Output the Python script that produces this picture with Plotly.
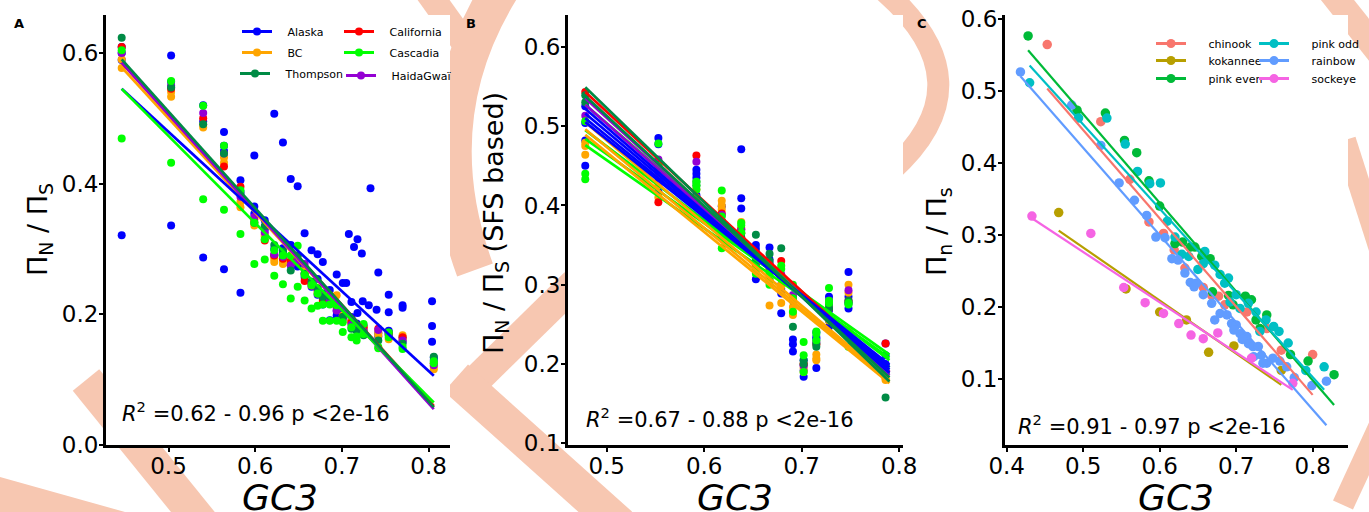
import plotly.graph_objects as go

FONT = "DejaVu Sans"
W, H = 1369, 512

# ---------------- Panel A data ----------------
A_POPS = ["Alaska", "BC", "Thompson", "California", "Cascadia", "HaidaGwaï"]
A_COLORS = ["#0000FF", "#FFA500", "#008B45", "#FF0000", "#00FF00", "#9400D3"]
A_GC3 = [0.446, 0.503, 0.540, 0.564, 0.583, 0.599, 0.611, 0.622, 0.632, 0.641, 0.649, 0.657, 0.665,
         0.672, 0.678, 0.686, 0.694, 0.701, 0.711, 0.717, 0.725, 0.742, 0.754, 0.770, 0.806]
A_ALASKA_1 = [0.609, 0.556, 0.520, 0.458, 0.405, 0.365, 0.344, 0.300, 0.301, 0.306, 0.273, 0.257, 0.242,
              0.254, 0.232, 0.237, 0.205, 0.206, 0.196, 0.186, 0.183, 0.171, 0.175, 0.165, 0.134]
A_ALASKA_2 = [0.600, 0.548, 0.495, 0.450, 0.387, 0.354, 0.330, 0.290, 0.295, 0.275, 0.276, 0.262, 0.250,
              0.230, 0.215, 0.191, 0.198, 0.200, 0.190, 0.178, 0.176, 0.166, 0.170, 0.158, 0.130]
A_ALASKA_OUT_X = [0.446, 0.446, 0.503, 0.503, 0.540, 0.564, 0.564, 0.583, 0.599, 0.622, 0.632, 0.641, 0.649,
                  0.657, 0.665, 0.672, 0.678, 0.694, 0.701, 0.705, 0.708, 0.714, 0.718, 0.723, 0.733, 0.742,
                  0.754, 0.754, 0.770, 0.770, 0.804, 0.804, 0.804, 0.718, 0.711, 0.724, 0.731, 0.740]
A_ALASKA_OUT_Y = [0.589, 0.321, 0.596, 0.336, 0.287, 0.479, 0.269, 0.233, 0.443, 0.507, 0.463, 0.407, 0.396,
                  0.324, 0.298, 0.292, 0.280, 0.261, 0.248, 0.248, 0.323, 0.303, 0.315, 0.293, 0.393, 0.264,
                  0.230, 0.203, 0.214, 0.210, 0.220, 0.182, 0.158, 0.202, 0.219, 0.220, 0.214, 0.207]
A_BC_1 = [0.577, 0.533, 0.486, 0.432, 0.364, 0.336, 0.319, 0.285, 0.277, 0.280, 0.283, 0.268, 0.248,
          0.240, 0.225, 0.229, 0.229, 0.198, 0.190, 0.182, 0.180, 0.172, 0.162, 0.168, 0.120]
A_BC_2 = [0.590, 0.540, 0.490, 0.440, 0.372, 0.340, 0.322, 0.280, 0.282, 0.278, 0.290, 0.262, 0.244,
          0.232, 0.220, 0.222, 0.212, 0.194, 0.186, 0.176, 0.178, 0.168, 0.170, 0.162, 0.116]
A_CALIFORNIA = [0.609, 0.545, 0.500, 0.426, 0.395, 0.345, 0.313, 0.290, 0.285, 0.282, 0.280, 0.251, 0.246,
                0.236, 0.222, 0.218, 0.210, 0.196, 0.188, 0.182, 0.180, 0.178, 0.170, 0.165, 0.125]
A_CASCADIA_1 = [0.604, 0.557, 0.519, 0.458, 0.390, 0.340, 0.315, 0.298, 0.290, 0.290, 0.305, 0.260, 0.245,
                0.232, 0.215, 0.215, 0.214, 0.188, 0.180, 0.166, 0.185, 0.150, 0.165, 0.150, 0.128]
A_CASCADIA_2 = [0.469, 0.432, 0.376, 0.360, 0.323, 0.277, 0.284, 0.259, 0.246, 0.224, 0.242, 0.221, 0.209,
                0.213, 0.190, 0.190, 0.190, 0.173, 0.165, 0.160, 0.170, 0.148, 0.172, 0.147, 0.125]
A_THOMPSON = [0.623, 0.547, 0.491, 0.446, 0.385, 0.340, 0.335, 0.306, 0.296, 0.267, 0.290, 0.262, 0.250,
              0.240, 0.226, 0.228, 0.215, 0.196, 0.178, 0.175, 0.168, 0.160, 0.172, 0.155, 0.135]
A_HAIDAGWAII = [0.600, 0.550, 0.508, 0.446, 0.380, 0.349, 0.325, 0.292, 0.288, 0.275, 0.282, 0.277, 0.248,
                0.238, 0.228, 0.222, 0.206, 0.192, 0.184, 0.180, 0.174, 0.176, 0.168, 0.160, 0.122]
# regression lines (value at first and last GC3)
A_LINE_GC3 = [0.446, 0.806]
A_LINE_START = [0.545, 0.578, 0.590, 0.585, 0.545, 0.585]
A_LINE_END = [0.106, 0.058, 0.058, 0.060, 0.065, 0.055]

# ---------------- Panel B data ----------------
B_GC3 = [0.478, 0.553, 0.592, 0.618, 0.638, 0.653, 0.667, 0.679, 0.691, 0.702, 0.715, 0.728, 0.748, 0.786]
B_ALASKA_1 = [0.525, 0.485, 0.445, 0.399, 0.409, 0.350, 0.347, 0.289, 0.281, 0.199, 0.234, 0.285, 0.316, 0.226]
B_ALASKA_2 = [0.504, 0.477, 0.435, 0.363, 0.396, 0.307, 0.332, 0.264, 0.231, 0.184, 0.195, 0.268, 0.285, 0.211]
B_ALASKA_3 = [0.482, 0.417, 0.413, 0.380, 0.352, 0.345, 0.327, 0.300, 0.225, 0.205, 0.232, 0.247, 0.270, 0.200]
B_ALASKA_4 = [0.450, 0.430, 0.440, 0.370, 0.471, 0.330, 0.309, 0.295, 0.216, 0.192, 0.240, 0.255, 0.278, 0.190]
B_BC_1 = [0.479, 0.410, 0.407, 0.406, 0.379, 0.338, 0.274, 0.298, 0.272, 0.195, 0.207, 0.260, 0.300, 0.180]
B_BC_2 = [0.464, 0.425, 0.410, 0.400, 0.372, 0.330, 0.310, 0.277, 0.265, 0.190, 0.205, 0.255, 0.243, 0.182]
B_BC_3 = [0.475, 0.440, 0.420, 0.395, 0.365, 0.325, 0.305, 0.300, 0.262, 0.200, 0.212, 0.258, 0.290, 0.186]
B_CALIFORNIA = [0.543, 0.404, 0.463, 0.390, 0.370, 0.325, 0.320, 0.330, 0.285, 0.200, 0.225, 0.270, 0.280, 0.226]
B_CASCADIA_1 = [0.506, 0.478, 0.420, 0.419, 0.375, 0.319, 0.315, 0.324, 0.300, 0.228, 0.241, 0.296, 0.277, 0.197]
B_CASCADIA_2 = [0.440, 0.446, 0.425, 0.386, 0.366, 0.314, 0.300, 0.308, 0.266, 0.211, 0.238, 0.277, 0.222, 0.188]
B_CASCADIA_3 = [0.433, 0.450, 0.430, 0.346, 0.378, 0.320, 0.305, 0.320, 0.283, 0.190, 0.230, 0.280, 0.275, 0.192]
B_THOMPSON_1 = [0.539, 0.451, 0.430, 0.375, 0.360, 0.363, 0.339, 0.346, 0.247, 0.205, 0.226, 0.275, 0.280, 0.158]
B_THOMPSON_2 = [0.530, 0.445, 0.425, 0.380, 0.365, 0.330, 0.330, 0.310, 0.280, 0.200, 0.222, 0.270, 0.276, 0.190]
B_HAIDAGWAII = [0.513, 0.458, 0.455, 0.388, 0.369, 0.328, 0.322, 0.313, 0.287, 0.198, 0.228, 0.280, 0.293, 0.190]
B_LINE_GC3 = [0.478, 0.790]
B_LINE_POP = ["Cascadia", "Cascadia", "Cascadia", "Cascadia", "BC", "BC", "BC", "California",
              "HaidaGwaï", "HaidaGwaï", "Alaska", "Alaska", "Alaska", "Alaska", "Thompson", "Thompson"]
B_LINE_START = [0.527, 0.495, 0.484, 0.476, 0.505, 0.496, 0.489, 0.543,
                0.535, 0.527, 0.522, 0.516, 0.510, 0.505, 0.549, 0.538]
B_LINE_END = [0.196, 0.205, 0.212, 0.208, 0.180, 0.178, 0.176, 0.190,
              0.186, 0.190, 0.189, 0.193, 0.196, 0.199, 0.178, 0.183]

# ---------------- Panel C data ----------------
C_SPECIES = ["chinook", "kokannee", "pink even", "pink odd", "rainbow", "sockeye"]
C_COLORS = ["#F8766D", "#B79F00", "#00BA38", "#00BFC4", "#619CFF", "#F564E3"]
C_CHINOOK_X = [0.453, 0.523, 0.561, 0.586, 0.605, 0.619, 0.633, 0.657, 0.668, 0.677, 0.685, 0.714, 0.740, 0.759, 0.800]
C_CHINOOK_Y = [0.564, 0.457, 0.377, 0.318, 0.302, 0.279, 0.254, 0.227, 0.216, 0.215, 0.203, 0.193, 0.170, 0.140, 0.134]
C_KOKANEE_X = [0.468, 0.556, 0.600, 0.635, 0.664, 0.697, 0.759]
C_KOKANEE_Y = [0.331, 0.225, 0.193, 0.182, 0.137, 0.146, 0.112]
C_PINKEVEN_X = [0.428, 0.492, 0.529, 0.554, 0.570, 0.586, 0.600, 0.620, 0.630, 0.640, 0.646, 0.655, 0.666,
                0.669, 0.690, 0.696, 0.712, 0.720, 0.726, 0.731, 0.740, 0.771, 0.794, 0.828]
C_PINKEVEN_Y = [0.576, 0.473, 0.469, 0.431, 0.414, 0.375, 0.340, 0.288, 0.290, 0.283, 0.283, 0.270, 0.267,
                0.221, 0.216, 0.203, 0.215, 0.210, 0.182, 0.170, 0.189, 0.134, 0.125, 0.106]
C_PINKODD_X = [0.430, 0.494, 0.531, 0.555, 0.571, 0.587, 0.601, 0.610, 0.620, 0.629, 0.638, 0.650, 0.659,
               0.657, 0.672, 0.679, 0.685, 0.690, 0.692, 0.700, 0.705, 0.716, 0.726, 0.731, 0.739, 0.749,
               0.756, 0.768, 0.791, 0.815]
C_PINKODD_Y = [0.511, 0.462, 0.462, 0.426, 0.388, 0.371, 0.372, 0.319, 0.297, 0.273, 0.270, 0.252, 0.277,
               0.260, 0.258, 0.245, 0.233, 0.240, 0.207, 0.217, 0.198, 0.205, 0.193, 0.166, 0.182, 0.173,
               0.166, 0.150, 0.112, 0.117]
C_RAINBOW_X = [0.418, 0.485, 0.523, 0.547, 0.567, 0.583, 0.595, 0.607, 0.616, 0.624, 0.633, 0.640, 0.648,
               0.657, 0.668, 0.672, 0.679, 0.688, 0.694, 0.700, 0.705, 0.714, 0.716, 0.722, 0.729, 0.723,
               0.733, 0.740, 0.748, 0.757, 0.766, 0.776, 0.799, 0.818, 0.645, 0.697, 0.708, 0.735]
C_RAINBOW_Y = [0.526, 0.480, 0.424, 0.372, 0.348, 0.327, 0.297, 0.296, 0.267, 0.265, 0.247, 0.234, 0.233,
               0.217, 0.205, 0.182, 0.191, 0.189, 0.177, 0.175, 0.163, 0.159, 0.149, 0.145, 0.145, 0.131,
               0.133, 0.122, 0.129, 0.125, 0.117, 0.102, 0.091, 0.097, 0.228, 0.168, 0.155, 0.122]
C_SOCKEYE_X = [0.433, 0.510, 0.553, 0.581, 0.605, 0.625, 0.641, 0.657, 0.676, 0.720, 0.774]
C_SOCKEYE_Y = [0.326, 0.302, 0.227, 0.206, 0.191, 0.177, 0.161, 0.156, 0.164, 0.129, 0.094]
C_LINE_X0 = [0.453, 0.468, 0.428, 0.430, 0.418, 0.433]
C_LINE_X1 = [0.800, 0.759, 0.828, 0.815, 0.818, 0.774]
C_LINE_Y0 = [0.503, 0.306, 0.556, 0.535, 0.520, 0.323]
C_LINE_Y1 = [0.078, 0.092, 0.064, 0.085, 0.036, 0.085]

R2_TEXT = ["<i>R</i><sup>2</sup> =0.62 - 0.96 p &lt;2e-16",
           "<i>R</i><sup>2</sup> =0.67 - 0.88 p &lt;2e-16",
           "<i>R</i><sup>2</sup> =0.91 - 0.97 p &lt;2e-16"]
Y_TITLES = ["Π<sub>N</sub> / Π<sub>S</sub>",
            "Π<sub>N</sub> / Π<sub>S</sub> (SFS based)",
            "Π<sub>n</sub> / Π<sub>s</sub>"]
PANEL_LABELS = ["A", "B", "C"]


def px(x):
    return x / W


def py(y):
    return 1 - y / H


fig = go.Figure()
A_COL = dict(zip(A_POPS, A_COLORS))

# ----- Panel A points -----
A_POINTS = {
    "Alaska": (A_GC3 * 2 + A_ALASKA_OUT_X, A_ALASKA_1 + A_ALASKA_2 + A_ALASKA_OUT_Y),
    "BC": (A_GC3 * 2, A_BC_1 + A_BC_2),
    "California": (A_GC3, A_CALIFORNIA),
    "HaidaGwaï": (A_GC3, A_HAIDAGWAII),
    "Thompson": (A_GC3, A_THOMPSON),
    "Cascadia": (A_GC3 * 2, A_CASCADIA_1 + A_CASCADIA_2),
}
for pop, (xs, ys) in A_POINTS.items():
    fig.add_trace(go.Scatter(x=xs, y=ys, mode="markers", xaxis="x", yaxis="y",
                             marker=dict(size=8, color=A_COL[pop]), showlegend=False))
for pop in ["BC", "California", "HaidaGwaï", "Alaska", "Cascadia", "Thompson"]:
    i = A_POPS.index(pop)
    fig.add_trace(go.Scatter(x=A_LINE_GC3, y=[A_LINE_START[i], A_LINE_END[i]], mode="lines",
                             xaxis="x", yaxis="y", line=dict(color=A_COL[pop], width=2.7),
                             showlegend=False))

# ----- Panel B points -----
B_POINTS = {
    "Alaska": (B_GC3 * 4, B_ALASKA_1 + B_ALASKA_2 + B_ALASKA_3 + B_ALASKA_4),
    "BC": (B_GC3 * 3, B_BC_1 + B_BC_2 + B_BC_3),
    "California": (B_GC3, B_CALIFORNIA),
    "HaidaGwaï": (B_GC3, B_HAIDAGWAII),
    "Thompson": (B_GC3 * 2, B_THOMPSON_1 + B_THOMPSON_2),
    "Cascadia": (B_GC3 * 3, B_CASCADIA_1 + B_CASCADIA_2 + B_CASCADIA_3),
}
for pop, (xs, ys) in B_POINTS.items():
    fig.add_trace(go.Scatter(x=xs, y=ys, mode="markers", xaxis="x2", yaxis="y2",
                             marker=dict(size=8, color=A_COL[pop]), showlegend=False))
for pop, y0, y1 in zip(B_LINE_POP, B_LINE_START, B_LINE_END):
    fig.add_trace(go.Scatter(x=B_LINE_GC3, y=[y0, y1], mode="lines", xaxis="x2", yaxis="y2",
                             line=dict(color=A_COL[pop], width=2.7), showlegend=False))

# ----- Panel C -----
C_POINTS = [(C_CHINOOK_X, C_CHINOOK_Y), (C_KOKANEE_X, C_KOKANEE_Y), (C_PINKEVEN_X, C_PINKEVEN_Y),
            (C_PINKODD_X, C_PINKODD_Y), (C_RAINBOW_X, C_RAINBOW_Y), (C_SOCKEYE_X, C_SOCKEYE_Y)]
for (xs, ys), col in zip(C_POINTS, C_COLORS):
    fig.add_trace(go.Scatter(x=xs, y=ys, mode="markers", xaxis="x3", yaxis="y3",
                             marker=dict(size=9.5, color=col), showlegend=False))
for i, col in enumerate(C_COLORS):
    fig.add_trace(go.Scatter(x=[C_LINE_X0[i], C_LINE_X1[i]], y=[C_LINE_Y0[i], C_LINE_Y1[i]],
                             mode="lines", xaxis="x3", yaxis="y3",
                             line=dict(color=col, width=2.2), showlegend=False))

# ----- legend entries: one small legend per entry, placed like the original key -----
A_KEY_POS = [(243, 31), (243, 52), (241, 73), (345, 31), (345, 52), (347, 75)]
C_KEY_POS = [(1157, 43), (1157, 60), (1157, 78), (1260, 43), (1260, 60), (1260, 78)]
leg_layout = {}
k = 0
for names, cols, pos, axes, nsp, msize in [(A_POPS, A_COLORS, A_KEY_POS, ("x", "y"), 3, 8),
                                            (C_SPECIES, C_COLORS, C_KEY_POS, ("x3", "y3"), 5, 9)]:
    for name, col, (lx, ly) in zip(names, cols, pos):
        k += 1
        lid = "legend" if k == 1 else "legend%d" % k
        fig.add_trace(go.Scatter(x=[None], y=[None], mode="lines+markers", name="\u00a0" * nsp + name,
                                 xaxis=axes[0], yaxis=axes[1], legend=lid,
                                 line=dict(color=col, width=3), marker=dict(size=msize, color=col)))
        leg_layout[lid] = dict(x=px(lx - 6), y=py(ly - 14), xanchor="left", yanchor="top",
                               bgcolor="rgba(0,0,0,0)", itemwidth=30, orientation="v",
                               font=dict(family=FONT, size=11, color="black"))


def ax(domain, rng, dtick, anchor, standoff):
    return dict(domain=domain, range=rng, dtick=dtick, tick0=0, anchor=anchor, automargin=False,
                showline=True, linecolor="black", linewidth=3, mirror=False,
                ticks="outside", ticklen=4, tickwidth=2, tickcolor="black",
                showgrid=False, zeroline=False, tickformat=".1f", ticklabelstandoff=standoff,
                tickfont=dict(family=FONT, size=23, color="black"))


YDOM = [py(445), py(15)]
PANELS_X = [(106, 450), (568, 903), (1005, 1348)]
fig.update_layout(
    width=W, height=H, margin=dict(l=0, r=0, t=0, b=0, autoexpand=False),
    paper_bgcolor="white", plot_bgcolor="white",
    xaxis=ax([px(106), px(450)], [0.4279, 0.8247], 0.1, "y", -6),
    yaxis=ax(YDOM, [0, 0.658], 0.2, "x", -4),
    xaxis2=ax([px(568), px(903)], [0.4603, 0.8039], 0.1, "y2", -6),
    yaxis2=ax(YDOM, [0.098, 0.6401], 0.1, "x2", -4),
    xaxis3=ax([px(1005), px(1348)], [0.3978, 0.8462], 0.1, "y3", -6),
    yaxis3=ax(YDOM, [0.0085, 0.605], 0.1, "x3", -4),
    **leg_layout,
)

# ----- background watermark (pale strokes outside the panels) -----
WM = "#F7C7B1"


def ppath(cmds):
    out = []
    for c in cmds:
        op, vals = c[0], c[1:]
        pts = []
        for j in range(0, len(vals), 2):
            pts.append("%.5f,%.5f" % (px(vals[j]), py(vals[j + 1])))
        out.append(op + " ".join(pts))
    return " ".join(out)


shapes = []


def wm_line(x0, y0, x1, y1, w):
    shapes.append(dict(type="line", xref="paper", yref="paper", x0=px(x0), y0=py(y0),
                       x1=px(x1), y1=py(y1), line=dict(color=WM, width=w), layer="below"))


def wm_path(cmds, w=None, fill=False):
    d = dict(type="path", xref="paper", yref="paper", path=ppath(cmds), layer="below")
    if fill:
        d.update(fillcolor=WM, line=dict(width=0))
    else:
        d.update(line=dict(color=WM, width=w))
    shapes.append(d)


wm_line(86, 380, 205, 527, 34)
wm_path([("M", 0, 477), ("L", 125, 512), ("L", 0, 512), ("Z",)], fill=True)
wm_path([("M", 500, -10), ("Q", 420, 120, 475, 270)], w=38)
wm_line(425, -12, 468, 48, 26)
wm_line(575, 283, 463, 393, 30)
wm_line(456, 378, 620, 525, 36)
wm_path([("M", 883, -10), ("Q", 990, 83, 890, 172)], w=22)
wm_line(1328, -12, 1385, 60, 26)
wm_line(1345, 140, 1385, 265, 22)
wm_line(1380, 425, 1343, 505, 22)

# white panel backgrounds cover the watermark inside the plotting areas
for x0, x1 in PANELS_X:
    shapes.append(dict(type="rect", xref="paper", yref="paper", x0=px(x0), x1=px(x1),
                       y0=py(445), y1=py(15), fillcolor="white", line=dict(width=0), layer="below"))
fig.update_layout(shapes=shapes)

ann = []
for cx in [280, 735, 1176]:
    ann.append(dict(x=px(cx), y=py(497), xref="paper", yref="paper", text="<i>GC3</i>",
                    showarrow=False, xanchor="center", yanchor="middle",
                    font=dict(family=FONT, size=36, color="black")))
for (cx, cy), t in zip([(39, 230), (495, 223), (938, 232)], Y_TITLES):
    ann.append(dict(x=px(cx), y=py(cy), xref="paper", yref="paper", text=t, textangle=-90,
                    showarrow=False, xanchor="center", yanchor="middle",
                    font=dict(family=FONT, size=27, color="black")))
for (lx, cy), t in zip([(120, 412), (584, 418), (1016, 425)], R2_TEXT):
    ann.append(dict(x=px(lx), y=py(cy), xref="paper", yref="paper", text=t,
                    showarrow=False, xanchor="left", yanchor="middle",
                    font=dict(family=FONT, size=21, color="black")))
for (cx, cy), t in zip([(19, 23), (471, 23), (922, 23)], PANEL_LABELS):
    ann.append(dict(x=px(cx), y=py(cy), xref="paper", yref="paper", text="<b>%s</b>" % t,
                    showarrow=False, xanchor="center", yanchor="middle",
                    font=dict(family=FONT, size=13, color="black")))
fig.update_layout(annotations=ann)

fig.write_html("out.html", config={"displayModeBar": False},
               post_script="document.body.style.margin='0px';")
